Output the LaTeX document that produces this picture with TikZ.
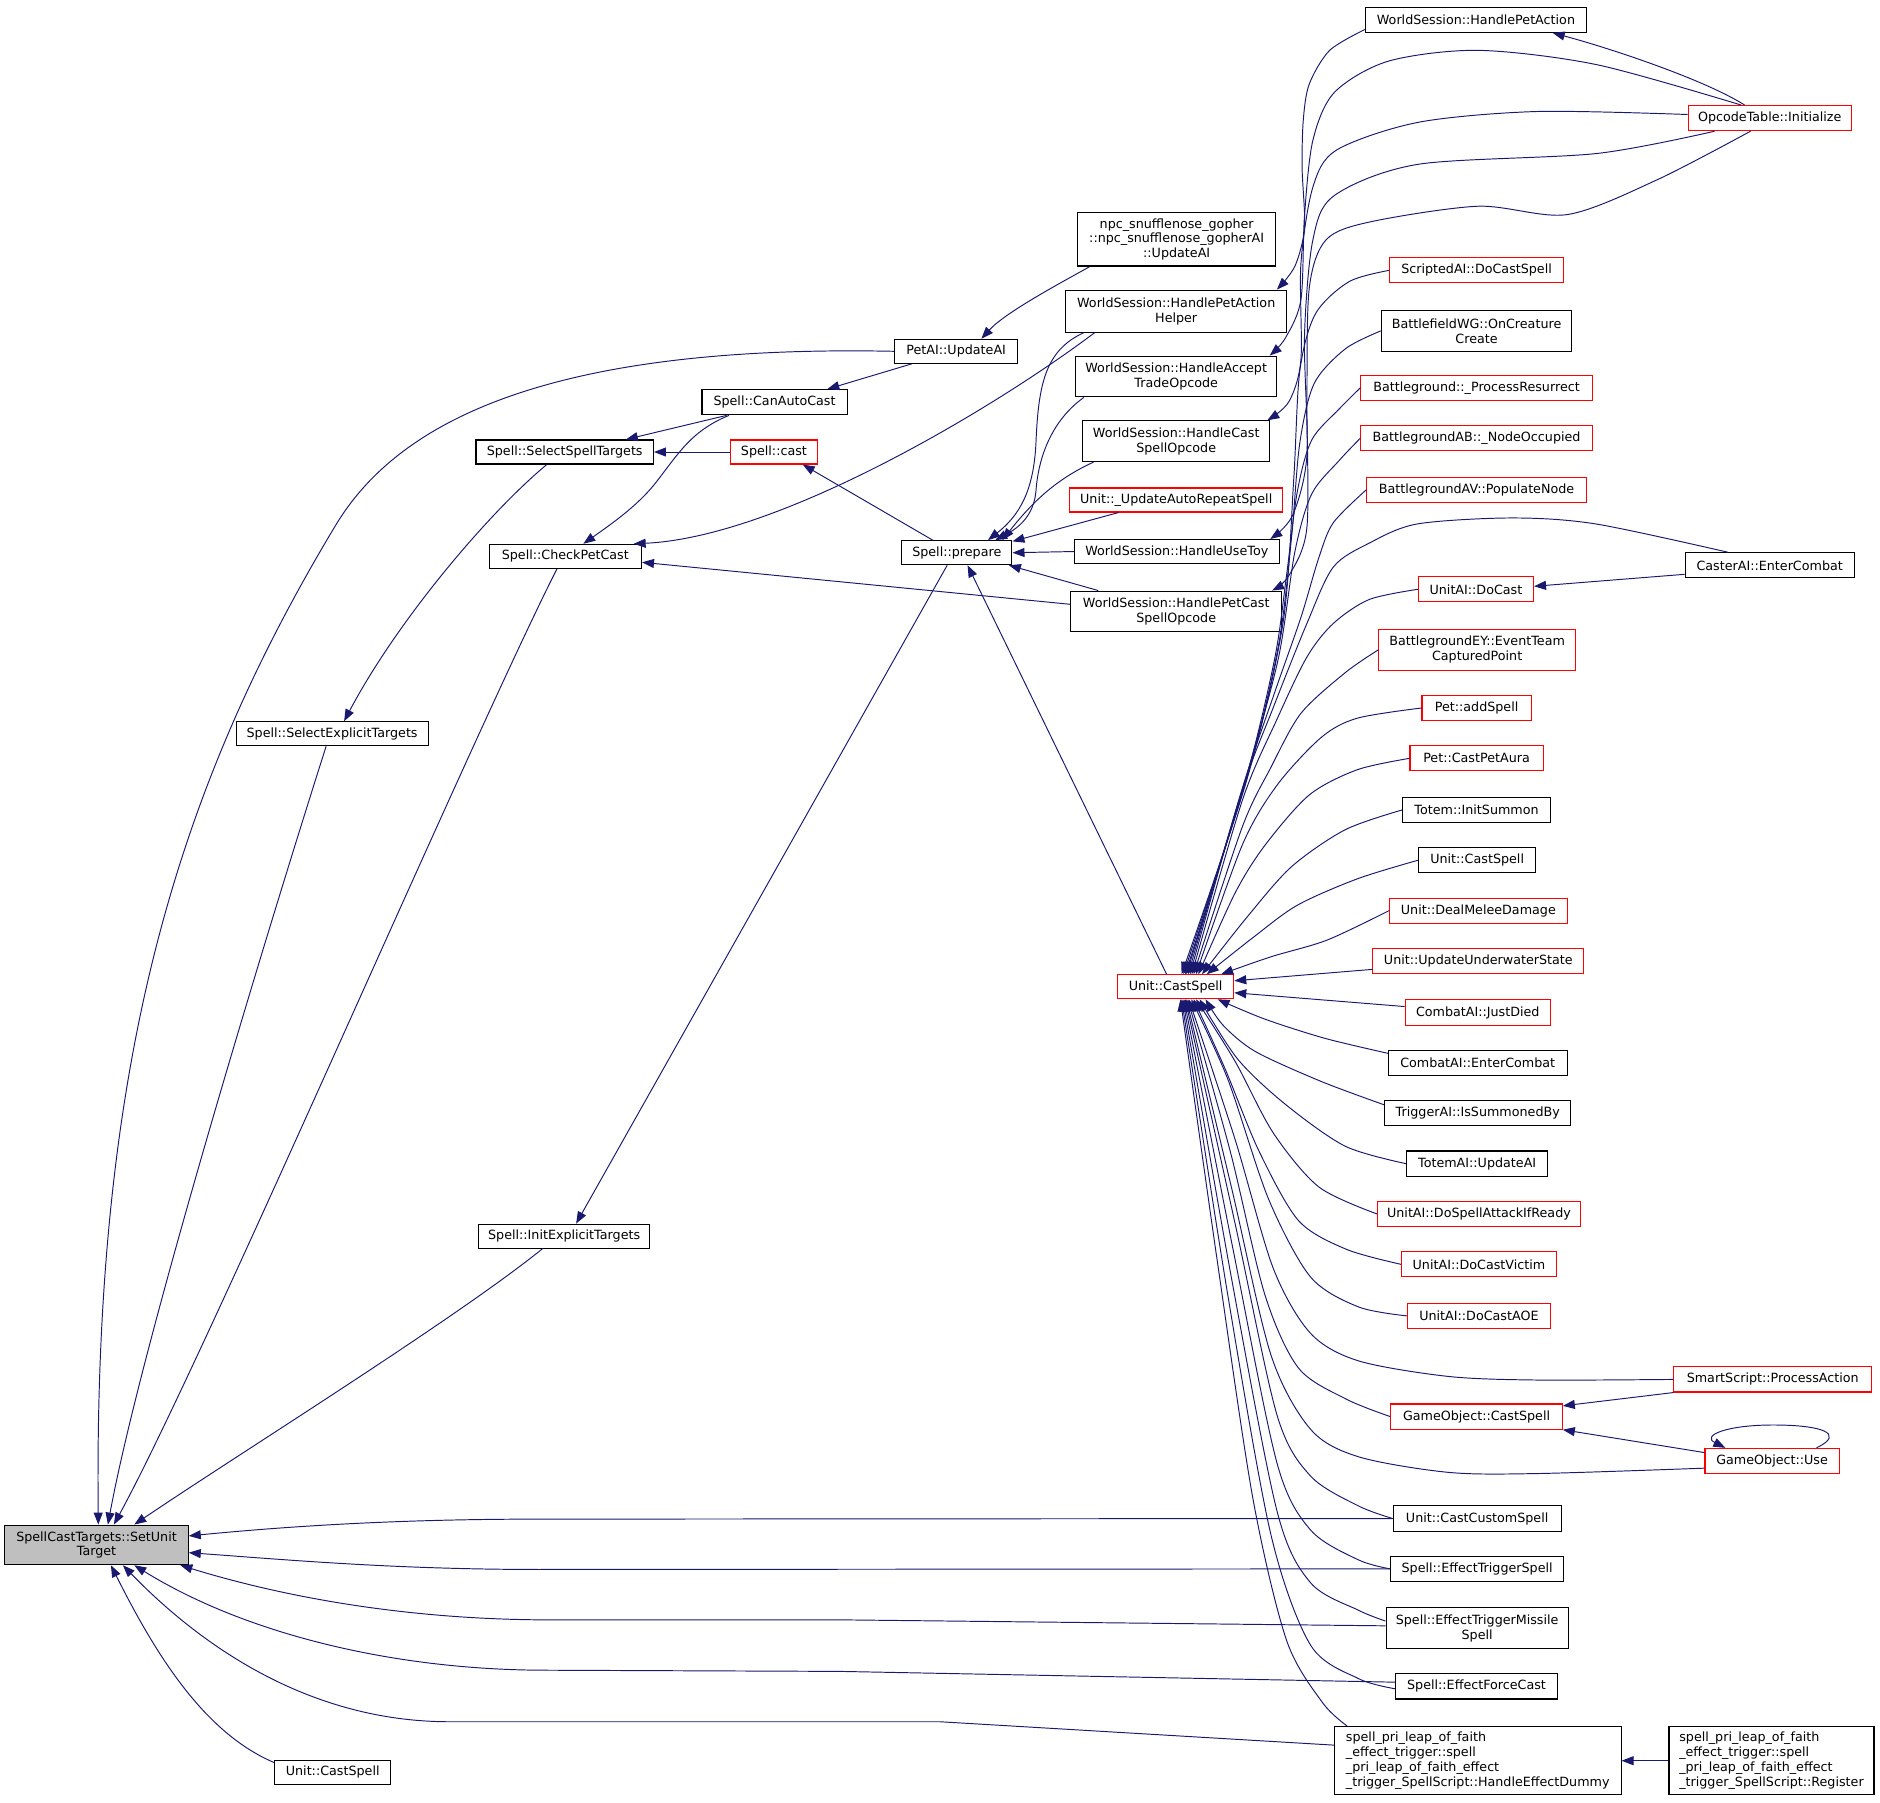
\documentclass[tikz,border=0pt]{standalone}
\usepackage{fontspec}
\setmainfont{DejaVu Sans}
\usetikzlibrary{arrows.meta}
\definecolor{edgec}{HTML}{191970}
\definecolor{rootfill}{HTML}{BFBFBF}
\begin{document}
\begin{tikzpicture}[x=1pt,y=-1pt,
 nbox/.style={draw=black, line width=0.9pt, fill=white, inner sep=0pt, align=center, font=\fontsize{10.6pt}{12.3pt}\selectfont},
 rbox/.style={nbox, draw=red},
 conn/.style={draw=edgec, line width=0.8pt, -{Triangle[length=10pt,width=7.5pt]}}]
\fill[white] (0,0) rectangle (1568,1503);
\useasboundingbox (0,0) rectangle (1568,1503);

% ---------- nodes ----------
\node[nbox, fill=rootfill, minimum width=153pt, minimum height=33pt] (root) at (80.5,1288.5) {SpellCastTargets::SetUnit\\Target};
\node[nbox, minimum width=97pt, minimum height=20pt] (ucsB) at (277.5,1478) {Unit::CastSpell};
\node[nbox, minimum width=148pt, minimum height=20pt] (sst) at (471,377) {Spell::SelectSpellTargets};
\node[nbox, minimum width=127pt, minimum height=20pt] (cpc) at (471.5,464) {Spell::CheckPetCast};
\node[nbox, minimum width=160pt, minimum height=20pt] (set) at (277,612) {Spell::SelectExplicitTargets};
\node[nbox, minimum width=143pt, minimum height=20pt] (iet) at (470.5,1031) {Spell::InitExplicitTargets};
\node[nbox, minimum width=103pt, minimum height=20pt] (pet) at (797.5,293) {PetAI::UpdateAI};
\node[nbox, minimum width=121pt, minimum height=21pt] (cac) at (646,335.5) {Spell::CanAutoCast};
\node[rbox, minimum width=73pt, minimum height=20pt] (cast) at (645.5,377) {Spell::cast};
\node[nbox, minimum width=92pt, minimum height=20pt] (prep) at (798,461) {Spell::prepare};
\node[nbox, minimum width=165pt, minimum height=44.5pt] (npc) at (981.4,199.6) {npc\_snufflenose\_gopher\\::npc\_snufflenose\_gopherAI\\::UpdateAI};
\node[nbox, minimum width=184pt, minimum height=35pt] (hpah) at (981,259.5) {WorldSession::HandlePetAction\\Helper};
\node[nbox, minimum width=168pt, minimum height=34pt] (hat) at (981,314) {WorldSession::HandleAccept\\TradeOpcode};
\node[nbox, minimum width=156pt, minimum height=34pt] (hcs) at (981,368) {WorldSession::HandleCast\\SpellOpcode};
\node[rbox, minimum width=178pt, minimum height=20pt] (uars) at (981,417) {Unit::\_UpdateAutoRepeatSpell};
\node[nbox, minimum width=171pt, minimum height=20pt] (hut) at (981.5,460) {WorldSession::HandleUseToy};
\node[nbox, minimum width=176pt, minimum height=34pt] (hpcs) at (981,510) {WorldSession::HandlePetCast\\SpellOpcode};
\node[rbox, minimum width=97pt, minimum height=20pt] (ucs) at (980.5,823) {Unit::CastSpell};

\node[nbox, minimum width=184pt, minimum height=21pt] (hpa) at (1231,16.5) {WorldSession::HandlePetAction};
\node[rbox, minimum width=145pt, minimum height=21pt] (sai) at (1231.5,225.5) {ScriptedAI::DoCastSpell};
\node[nbox, minimum width=159pt, minimum height=34pt] (bwg) at (1231.5,276) {BattlefieldWG::OnCreature\\Create};
\node[rbox, minimum width=193pt, minimum height=21pt] (bpr) at (1231.5,323.5) {Battleground::\_ProcessResurrect};
\node[rbox, minimum width=193pt, minimum height=21pt] (bab) at (1231.5,365.5) {BattlegroundAB::\_NodeOccupied};
\node[rbox, minimum width=183pt, minimum height=21pt] (bav) at (1231.5,408.5) {BattlegroundAV::PopulateNode};
\node[rbox, minimum width=96pt, minimum height=21pt] (udc) at (1231,491.5) {UnitAI::DoCast};
\node[rbox, minimum width=164pt, minimum height=34pt] (bey) at (1232,542) {BattlegroundEY::EventTeam\\CapturedPoint};
\node[rbox, minimum width=91pt, minimum height=21pt] (pas) at (1231.5,590.5) {Pet::addSpell};
\node[rbox, minimum width=111pt, minimum height=21pt] (pcpa) at (1231.5,632.5) {Pet::CastPetAura};
\node[nbox, minimum width=123pt, minimum height=21pt] (tis) at (1231.5,675.5) {Totem::InitSummon};
\node[nbox, minimum width=98pt, minimum height=21pt] (ucs3) at (1232,717.5) {Unit::CastSpell};
\node[rbox, minimum width=148pt, minimum height=21pt] (udmd) at (1233,759.5) {Unit::DealMeleeDamage};
\node[rbox, minimum width=176pt, minimum height=21pt] (uuws) at (1233,801.5) {Unit::UpdateUnderwaterState};
\node[rbox, minimum width=121pt, minimum height=21pt] (cajd) at (1232.5,844.5) {CombatAI::JustDied};
\node[nbox, minimum width=149pt, minimum height=21pt] (caec) at (1232.5,886.5) {CombatAI::EnterCombat};
\node[nbox, minimum width=155pt, minimum height=21pt] (tisb) at (1232.5,928.5) {TriggerAI::IsSummonedBy};
\node[nbox, minimum width=118pt, minimum height=21pt] (taua) at (1232,970.5) {TotemAI::UpdateAI};
\node[rbox, minimum width=169pt, minimum height=21pt] (udsa) at (1233.5,1012.5) {UnitAI::DoSpellAttackIfReady};
\node[rbox, minimum width=129pt, minimum height=21pt] (udcv) at (1233.5,1054.5) {UnitAI::DoCastVictim};
\node[rbox, minimum width=119pt, minimum height=21pt] (udca) at (1233.5,1097.5) {UnitAI::DoCastAOE};
\node[rbox, minimum width=143pt, minimum height=21pt] (gocs) at (1231.5,1181.5) {GameObject::CastSpell};
\node[nbox, minimum width=140pt, minimum height=21pt] (uccs) at (1232,1266.5) {Unit::CastCustomSpell};
\node[nbox, minimum width=144pt, minimum height=21pt] (ets) at (1232,1308.5) {Spell::EffectTriggerSpell};
\node[nbox, minimum width=152pt, minimum height=34pt] (etms) at (1232,1358) {Spell::EffectTriggerMissile\\Spell};
\node[nbox, minimum width=135pt, minimum height=21pt] (efc) at (1231.5,1406.5) {Spell::EffectForceCast};
\node[nbox, align=left, minimum width=239pt, minimum height=57pt] (hed) at (1232.5,1468.5) {spell\_pri\_leap\_of\_faith\\\_effect\_trigger::spell\\\_pri\_leap\_of\_faith\_effect\\\_trigger\_SpellScript::HandleEffectDummy};

\node[rbox, minimum width=136pt, minimum height=21pt] (oti) at (1476,98.5) {OpcodeTable::Initialize};
\node[nbox, minimum width=141pt, minimum height=21pt] (caiec) at (1476,471.5) {CasterAI::EnterCombat};
\node[rbox, minimum width=165pt, minimum height=21pt] (sspa) at (1478.5,1150.5) {SmartScript::ProcessAction};
\node[rbox, minimum width=112pt, minimum height=21pt] (gou) at (1478,1218.5) {GameObject::Use};
\node[nbox, align=left, minimum width=171pt, minimum height=57pt] (reg) at (1477.5,1468.5) {spell\_pri\_leap\_of\_faith\\\_effect\_trigger::spell\\\_pri\_leap\_of\_faith\_effect\\\_trigger\_SpellScript::Register};

% ---------- edges into SetUnitTarget ----------
\draw[conn] (pet.west) .. controls (450,287) and (330,355) .. (280,438) .. controls (150,654) and (78,880) .. ([xshift=1.5pt]root.north);
\draw[conn] ([xshift=-5pt]set.south) .. controls (225,770) and (118,1120) .. ([xshift=9.5pt]root.north);
\draw[conn] ([xshift=-7pt]cpc.south) .. controls (392,618) and (170,1134) .. ([xshift=14.5pt]root.north);
\draw[conn] ([xshift=-18pt]iet.south) .. controls (380,1100) and (200,1212) .. ([xshift=31.5pt]root.north);
\draw[conn] (uccs.west) -- (450,1267) .. controls (330,1267) and (240,1273) .. ([yshift=7.5pt]root.east);
\draw[conn] (ets.west) -- (450,1309) .. controls (330,1309) and (240,1301) .. ([yshift=-6.5pt]root.east);
\draw[conn] ([yshift=2pt]etms.west) -- (700,1351) -- (450,1351) .. controls (330,1350) and (230,1330) .. ([xshift=-7pt]root.south east);
\draw[conn] ([yshift=3.5pt]efc.west) -- (700,1394) -- (450,1393) .. controls (320,1392) and (200,1360) .. ([xshift=31.5pt]root.south);
\draw[conn] ([yshift=13pt]hed.west) -- (784,1436) -- (375,1436) .. controls (260,1436) and (170,1375) .. ([xshift=22pt]root.south);
\draw[conn] ([yshift=8pt]ucsB.west) .. controls (170,1445) and (130,1380) .. ([xshift=12pt]root.south);

% ---------- left / middle edges ----------
\draw[conn] ([xshift=-40pt]cac.south) -- ([xshift=51pt]sst.north);
\draw[conn] (cast.west) -- (sst.east);
\draw[conn] ([xshift=-15pt]sst.south) .. controls (405,430) and (330,520) .. ([xshift=10pt]set.north);
\draw[conn] ([xshift=-38pt]cac.south) .. controls (575,360) and (565,380) .. (545,405) .. controls (530,423) and (510,437) .. ([xshift=15pt]cpc.north);
\draw[conn] ([xshift=-68pt]hpah.south) .. controls (830,340) and (650,448) .. ([xshift=57pt]cpc.north);
\draw[conn] ([yshift=6pt]hpcs.west) -- ([yshift=-5pt]cpc.east);
\draw[conn] ([xshift=-72.4pt]npc.south) .. controls +(-25,14) and +(20,-22) .. ([xshift=21pt]pet.north);
\draw[conn] ([xshift=-37pt]pet.south) -- ([xshift=44pt]cac.north);
\draw[conn] ([xshift=-20pt]prep.north) -- ([xshift=24pt]cast.south);
\draw[conn] ([xshift=-77pt]hpah.south) .. controls (872,292) and (866,320) .. (864,370) .. controls (862,410) and (850,430) .. ([xshift=26pt]prep.north);
\draw[conn] ([xshift=-77pt]hat.south) .. controls (878,350) and (866,380) .. (864,410) .. controls (862,430) and (850,440) .. ([xshift=32pt]prep.north);
\draw[conn] ([xshift=-69pt]hcs.south) .. controls (880,400) and (860,420) .. ([xshift=38pt]prep.north);
\draw[conn] ([xshift=-48pt]uars.south) -- ([yshift=-1pt]prep.north east);
\draw[conn] (hut.west) -- (prep.east);
\draw[conn] ([xshift=-65pt]hpcs.north) -- ([xshift=-3pt]prep.south east);
\draw[conn] ([xshift=-7.5pt]ucs.north) -- ([xshift=9pt]prep.south);
\draw[conn] ([xshift=-8pt]prep.south) -- ([xshift=10pt]iet.north);

% ---------- top: OpcodeTable and HandlePetAction ----------
\draw[conn] ([xshift=-21pt]oti.north) .. controls +(-35,-22) and +(45,12) .. ([xshift=64pt]hpa.south);
\draw[conn] plot[smooth] coordinates {([yshift=-8pt]hpa.west) (1109,42) (1092,70) (1087,100) (1086,140) (1088,190) (1080,222) ([xshift=84pt]hpah.north)};
\draw[conn] plot[smooth] coordinates {([xshift=-24pt]oti.north) (1332,54) (1233,42) (1158,51) (1113,77) (1095,117) (1088,180) (1085,250) (1072,282) ([xshift=78pt]hat.north)};
\draw[conn] plot[smooth] coordinates {([yshift=3pt]oti.west) (1282,93) (1183,102) (1115,125) (1095,156) (1085,220) (1085,300) (1075,335) ([xshift=76pt]hcs.north)};
\draw[conn] plot[smooth] coordinates {([xshift=-46pt]oti.south) (1332,128) (1183,137) (1113,163) (1095,200) (1088,280) (1090,380) (1078,430) ([xshift=78pt]hut.north)};
\draw[conn] plot[smooth] coordinates {([xshift=-16pt]oti.south) (1382,150) (1307,179) (1233,172) (1143,185) (1106,200) (1092,240) (1090,330) (1090,440) (1075,480) ([xshift=80pt]hpcs.north)};

% ---------- edges into Unit::CastSpell (red) from above ----------
\draw[conn] plot[smooth] coordinates {(sai.west) (1125,235) (1097,262) (1084,310) (1079,400) (1070,520) (1040,650) ([xshift=5pt]ucs.north)};
\draw[conn] plot[smooth] coordinates {(bwg.west) (1122,291) (1096,320) (1084,370) (1077,450) (1066,540) (1039,652) ([xshift=6.5pt]ucs.north)};
\draw[conn] plot[smooth] coordinates {(bpr.west) (1117,341) (1094,367) (1082,410) (1073,480) (1063,550) (1038,654) ([xshift=8pt]ucs.north)};
\draw[conn] plot[smooth] coordinates {(bab.west) (1117,384) (1094,412) (1080,460) (1066,550) (1037,656) ([xshift=9pt]ucs.north)};
\draw[conn] plot[smooth] coordinates {(bav.west) (1112,436) (1100,465) (1085,515) (1064,575) (1036,658) ([xshift=10.5pt]ucs.north)};
\draw[conn] plot[smooth] coordinates {([xshift=-35pt]caiec.north) (1331,437) (1261,432) (1182,437) (1142,453) (1112,473) (1090,520) (1062,590) (1035,662) ([xshift=12pt]ucs.north)};
\draw[conn] plot[smooth] coordinates {(udc.west) (1142,500) (1112,520) (1090,548) (1065,600) (1036,668) ([xshift=13.5pt]ucs.north)};
\draw[conn] plot[smooth] coordinates {(bey.west) (1122,561) (1085,595) (1060,640) (1036,690) ([xshift=15pt]ucs.north)};
\draw[conn] plot[smooth] coordinates {(pas.west) (1132,599) (1102,615) (1065,655) (1036,705) ([xshift=17pt]ucs.north)};
\draw[conn] plot[smooth] coordinates {(pcpa.west) (1132,642) (1092,663) (1055,705) (1030,745) ([xshift=19pt]ucs.north)};
\draw[conn] plot[smooth] coordinates {(tis.west) (1122,692) (1077,723) (1040,765) ([xshift=22pt]ucs.north)};
\draw[conn] plot[smooth] coordinates {(ucs3.west) (1132,733) (1082,755) (1045,782) ([xshift=26pt]ucs.north)};
\draw[conn] plot[smooth] coordinates {(udmd.west) (1107,784) (1060,798) ([xshift=38pt]ucs.north)};
\draw[conn] ([yshift=-7pt]uuws.west) -- ([yshift=5pt]ucs.east);
\draw[conn] ([yshift=5pt]cajd.west) -- ([yshift=-5pt]ucs.east);

% ---------- edges into Unit::CastSpell (red) from below ----------
\draw[conn] plot[smooth] coordinates {([yshift=8pt]caec.west) (1105,866) (1055,850) ([xshift=35pt]ucs.south)};
\draw[conn] plot[smooth] coordinates {([yshift=7pt]tisb.west) (1102,902) (1047,877) (1020,855) ([xshift=25pt]ucs.south)};
\draw[conn] plot[smooth] coordinates {(taua.west) (1122,956) (1072,921) (1032,883) ([xshift=20pt]ucs.south)};
\draw[conn] plot[smooth] coordinates {(udsa.west) (1100,990) (1062,945) (1030,885) ([xshift=17pt]ucs.south)};
\draw[conn] plot[smooth] coordinates {(udcv.west) (1123,1042) (1083,1018) (1050,960) (1022,892) ([xshift=15pt]ucs.south)};
\draw[conn] plot[smooth] coordinates {(udca.west) (1133,1090) (1093,1065) (1058,1000) (1024,900) ([xshift=13pt]ucs.south)};
\draw[conn] plot[smooth] coordinates {(sspa.west) (1282,1151) (1208,1148) (1133,1135) (1093,1112) (1062,1058) (1030,950) ([xshift=11pt]ucs.south)};
\draw[conn] plot[smooth] coordinates {(gocs.west) (1123,1167) (1083,1141) (1055,1080) (1026,960) ([xshift=10pt]ucs.south)};
\draw[conn] plot[smooth] coordinates {([yshift=-6pt]gou.west) (1282,1229) (1208,1228) (1133,1215) (1093,1192) (1060,1130) (1027,990) ([xshift=9pt]ucs.south)};
\draw[conn] plot[smooth] coordinates {(uccs.west) (1133,1256) (1093,1231) (1065,1180) (1030,1020) ([xshift=8pt]ucs.south)};
\draw[conn] plot[smooth] coordinates {(ets.west) (1133,1301) (1093,1276) (1065,1220) (1028,1040) ([xshift=7pt]ucs.south)};
\draw[conn] plot[smooth] coordinates {([yshift=6pt]etms.west) (1133,1343) (1093,1320) (1065,1260) (1026,1060) ([xshift=6pt]ucs.south)};
\draw[conn] plot[smooth] coordinates {([yshift=-2pt]efc.west) (1133,1400) (1093,1372) (1060,1280) (1024,1080) ([xshift=5pt]ucs.south)};
\draw[conn] plot[smooth] coordinates {([xshift=-109pt]hed.north) (1103,1420) (1073,1368) (1045,1250) (1015,1050) ([xshift=4pt]ucs.south)};

% ---------- right-hand edges ----------
\draw[conn] ([yshift=-7.5pt]caiec.west) -- ([yshift=2.5pt]udc.east);
\draw[conn] (sspa.south west) -- ([yshift=-2pt]gocs.north east);
\draw[conn] ([yshift=7pt]gou.west) -- (gocs.south east);
\draw[conn] ([xshift=37pt]gou.north) .. controls +(25,-12) and +(40,0) .. (1479,1188.5) .. controls +(-40,0) and +(-20,-10) .. ([xshift=-39pt]gou.north);
\draw[conn] (reg.west) -- (hed.east);
\end{tikzpicture}
\end{document}
